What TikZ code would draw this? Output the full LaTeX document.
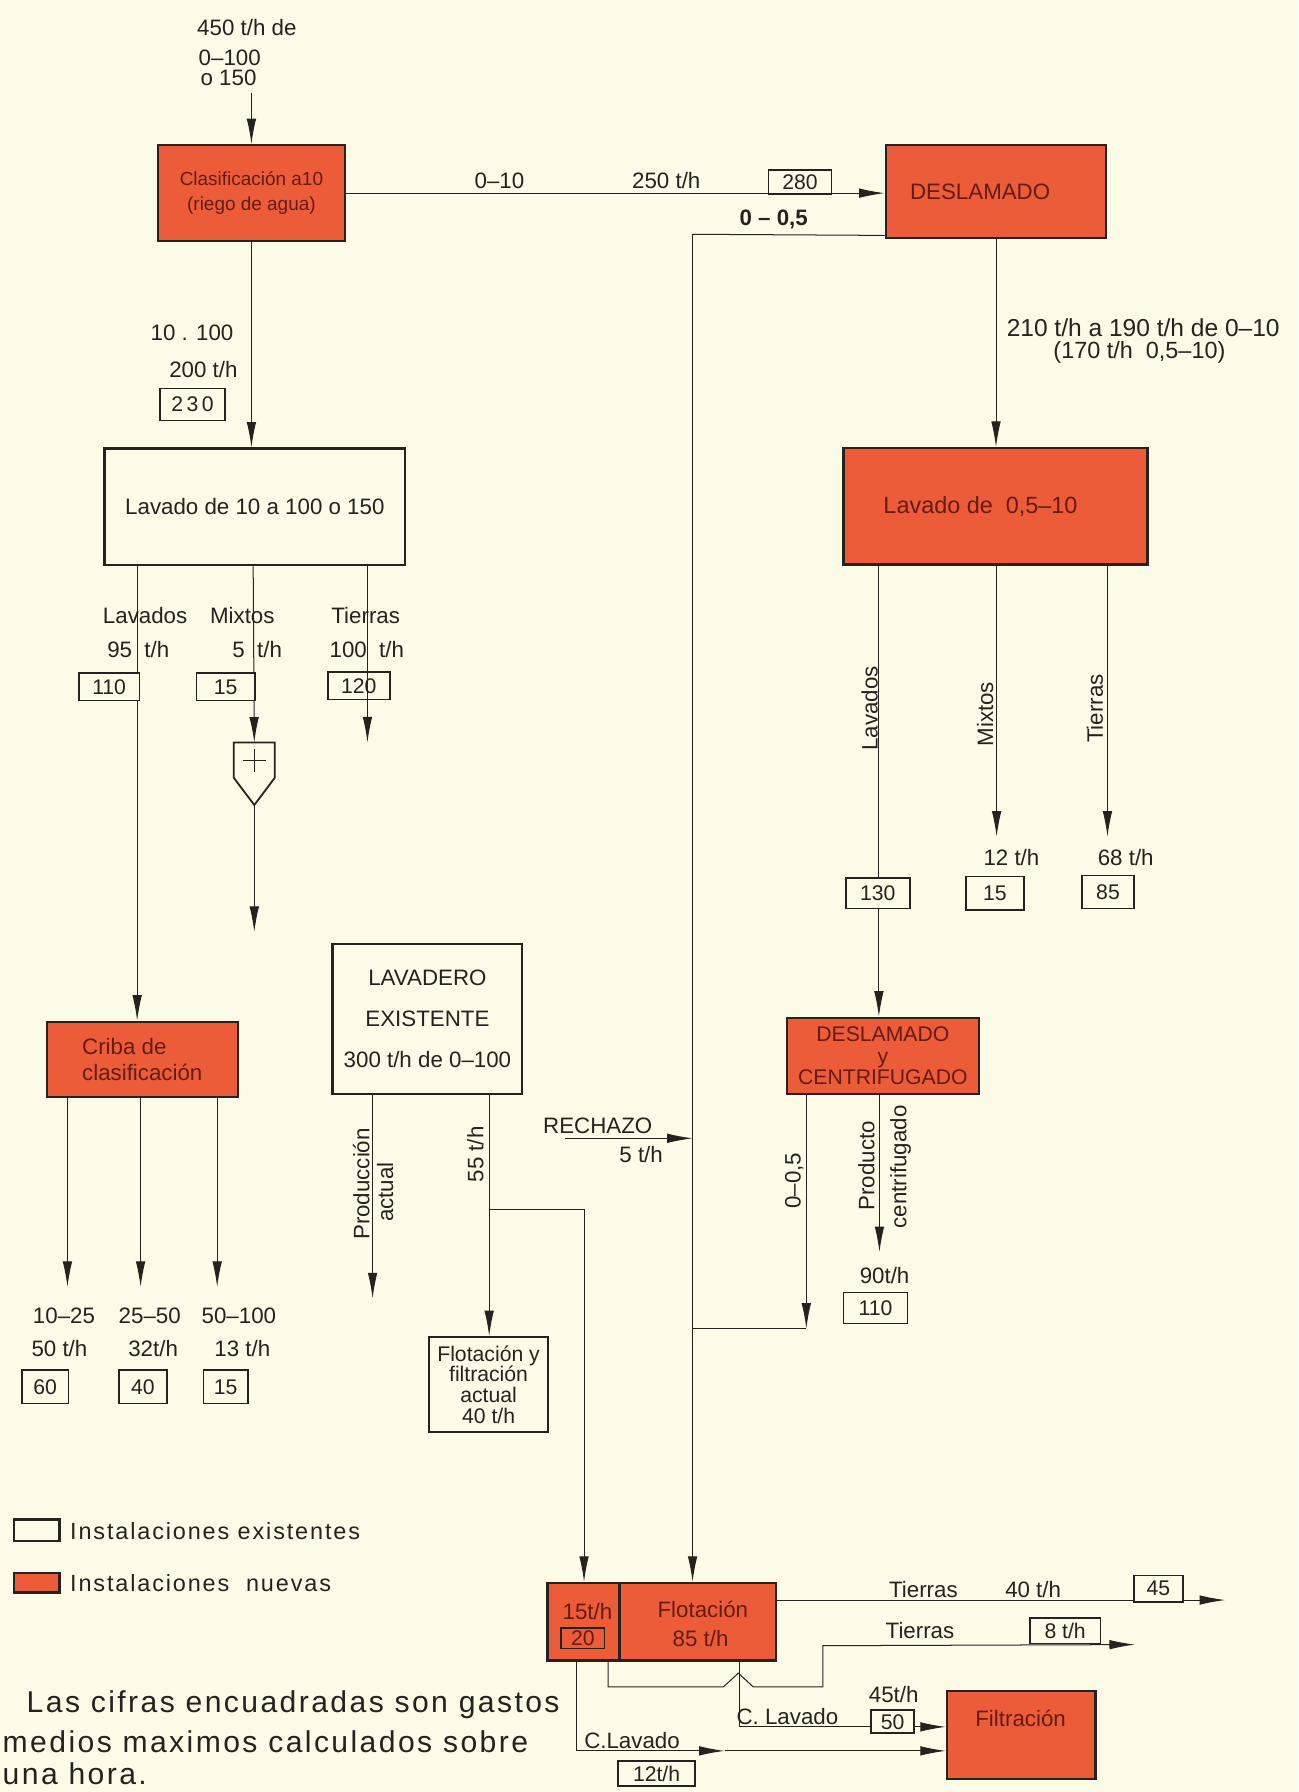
\documentclass[tikz,border=0pt]{standalone}
\usepackage{fontspec}
\setmainfont{Liberation Sans}
\newfontfamily\abierta[LetterSpace=8]{Liberation Sans}
\usetikzlibrary{arrows.meta,calc}

\definecolor{papel}{RGB}{252,251,231}
\definecolor{nuevo}{RGB}{236,92,56}
\definecolor{tinta}{RGB}{38,34,30}
\definecolor{rotulo}{RGB}{100,28,20}

\tikzset{
    tam/.style 2 args={minimum width=#1*0.018cm, minimum height=#2*0.018cm},
    nueva/.style={draw=tinta, fill=nuevo, line width=1pt, text=rotulo, inner sep=0pt, align=center},
    existente/.style={draw=tinta, line width=1pt, inner sep=0pt, align=center},
    cifra/.style={draw=tinta, fill=papel, line width=0.8pt, inner sep=0pt, font=\fontsize{9.5}{11}\selectfont},
    flujo/.style={->, draw=tinta, line width=0.45pt},
    linea/.style={draw=tinta, line width=0.45pt},
    vert/.style={rotate=90},
}

\begin{document}
\begin{tikzpicture}[x=0.018cm, y=-0.018cm, >={Latex[length=4mm,width=1.5mm]}, text=tinta]
        % Papel
        \fill [papel] (0,0) rectangle (1136,1568);
        \useasboundingbox (0,0) rectangle (1136,1568);

        % Alimentacion
        \node (alim1) at (216,24) {450 t/h de};
        \node (alim2) at (201,51) {0--100};
        \node (alim3) at (200,68) {o 150};

        % Procesos
        \node [nueva, tam={164}{84}, font=\fontsize{8.5}{11}\selectfont] (clas) at (220,169) {Clasificación a10\\(riego de agua)};
        \node [nueva, tam={193}{81}] (desl) at (871.5,167.5) {DESLAMADO\hspace{0.5cm}};
        \node [existente, tam={263}{102}] (lav1) at (223,443.5) {Lavado de 10 a 100 o 150};
        \node [nueva, tam={266}{102}, font=\fontsize{10.5}{12}\selectfont] (lav2) at (871,443) {Lavado de \ 0,5--10\hspace{0.47cm}};
        \node [nueva, tam={167}{66}, align=left] (criba) at (124.5,927) {Criba de\\clasificación};
        \node [existente, tam={166}{131}, font=\fontsize{10}{18.5}\selectfont] (lavex) at (374,891.5) {LAVADERO\\EXISTENTE\\300 t/h de 0--100};
        \node [nueva, tam={168}{67}, font=\fontsize{9.5}{9.6}\selectfont] (dc) at (772.5,924) {DESLAMADO\\y\\CENTRIFUGADO};
        \node [existente, tam={104}{83}, font=\fontsize{9.5}{9.3}\selectfont] (flact) at (427.5,1211.5) {Flotación y\\filtración\\actual\\40 t/h};
        \node [nueva, tam={200}{68}] (flot) at (579,1419) {};
        \node [nueva, tam={130}{77}] (filt) at (893.5,1518) {};

        % Rotulos de flotacion y filtracion
        \draw [draw=tinta, line width=1pt] ($(flot.north west)+(64,0)$) -- ($(flot.south west)+(64,0)$);
        \node [text=rotulo] (f15) at (514,1410) {15t/h};
        \node [cifra, tam={38}{18}, fill=none, text=rotulo] (c20) at (510,1433.5) {20};
        \node [text=rotulo] (flotx) at (615,1408) {Flotación};
        \node [text=rotulo] (f85) at (613,1434) {85 t/h};
        \node [text=rotulo] (filtx) at (893,1504) {Filtración};

        % Entrada
        \draw [flujo] (alim3.south -| clas.north) -- (clas.north);

        % Clasificacion -> Deslamado
        \draw [flujo] (clas.east) -- (clas.east -| desl.west);
        \node (t010) at (437,158) {0--10};
        \node (t250) at (583,158) {250 t/h};
        \node [cifra, tam={55}{21}] (c280) at (700,159) {280};

        % 0-0,5 hacia flotacion
        \coordinate (fin05) at ($(desl.south west)+(0,-3)$);
        \coordinate (bajada) at (606,205);
        \draw [linea] (fin05) -- (bajada);
        \draw [flujo] (bajada) -- (bajada |- flot.north);
        \node [font=\bfseries] (t005) at (677,192) {0 -- 0,5};

        % Deslamado -> Lavado 0,5-10
        \draw [flujo] (desl.south) -- (desl.south |- lav2.north);
        \node [anchor=west, font=\fontsize{11}{13}\selectfont] (t210) at (874,287) {210 t/h a 190 t/h de 0--10};
        \node [font=\fontsize{10.5}{13}\selectfont] (t170) at (997,308) {(170 t/h \ 0,5--10)};

        % Clasificacion -> Lavado 10-100
        \draw [flujo] (clas.south) -- (clas.south |- lav1.north);
        \node (t10100) at (168,291) {10 . 100};
        \node (t200) at (178,323) {200 t/h};
        \node [cifra, tam={57}{28}] (c230) at (168.5,354) {2\,3\,0};

        % Salidas del lavado 10-100
        \coordinate (l1a) at ($(lav1.south west)+(29.5,0)$);
        \coordinate (l1b) at ($(lav1.south west)+(131,0)$);
        \coordinate (l1c) at ($(lav1.south west)+(231,0)$);
        \draw [flujo] (l1a) -- (l1a |- criba.north);
        \node [tam={35}{54}] (sep) at (222.5,677) {};
        \draw [draw=tinta, line width=0.8pt] (sep.north west) -- (sep.north east) -- ($(sep.north east)+(0,31)$) -- (sep.south) -- ($(sep.north west)+(0,31)$) -- cycle;
        \draw [linea] ($(sep.north)+(-10,16)$) -- ++(20,0) ($(sep.north)+(0,6)$) -- ++(0,20);
        \draw [flujo] (l1b) -- (sep.north);
        \coordinate (mixfin) at ($(sep.south)+(0,111)$);
        \draw [flujo] (sep.south) -- (mixfin);
        \coordinate (tierfin) at ($(l1c)+(0,154)$);
        \draw [flujo] (l1c) -- (tierfin);
        \node (lbl1) at (127,539) {Lavados};
        \node (lbl2) at (212,539) {Mixtos};
        \node (lbl3) at (320,539) {Tierras};
        \node (q1) at (121,568) {95 \ t/h};
        \node (q2) at (225,568) {5 \ t/h};
        \node (q3) at (321,568) {100 \ t/h};
        \node [cifra, tam={53}{24}] (c110) at (95.5,601) {110};
        \node [cifra, tam={51}{24}] (c15a) at (197.5,601) {15};
        \node [cifra, tam={54}{24}, fill=none] (c120) at (314,600) {120};

        % Salidas de la criba
        \foreach \dx/\n in {19/a,83/b,150/c} {
            \coordinate (cr\n) at ($(criba.south west)+(\dx,0)$);
            \coordinate (cr\n fin) at ($(cr\n)+(0,165)$);
            \draw [flujo] (cr\n) -- (cr\n fin);
        }
        \node (g1) at (56,1151) {10--25};
        \node (g2) at (131,1151) {25--50};
        \node (g3) at (209,1151) {50--100};
        \node (h1) at (52,1180) {50 t/h};
        \node (h2) at (134,1180) {32t/h};
        \node (h3) at (212,1180) {13 t/h};
        \node [cifra, tam={41}{29}] (c60) at (39.5,1213.5) {60};
        \node [cifra, tam={42}{29}] (c40) at (125,1213.5) {40};
        \node [cifra, tam={39}{29}] (c15b) at (197.5,1213.5) {15};

        % Lavadero existente
        \coordinate (lxa) at ($(lavex.south west)+(36,0)$);
        \coordinate (lxb) at ($(lavex.south west)+(138,0)$);
        \coordinate (lxafin) at ($(lxa)+(0,178)$);
        \draw [flujo] (lxa) -- (lxafin);
        \draw [flujo] (lxb) -- (lxb |- flact.north);
        \coordinate (der) at ($(lxb)+(0,100)$);
        \coordinate (flotA) at ($(flot.north west)+(33,0)$);
        \draw [flujo] (der) -| (flotA);
        \node [vert] (prod) at (316,1036) {Producción};
        \node [vert] (act) at (337,1043) {actual};
        \node [vert] (t55) at (416,1010) {55 t/h};

        % Rechazo
        \node (rech) at (523,985) {RECHAZO};
        \node (r5) at (561,1010) {5 t/h};
        \coordinate (rechini) at (494,996);
        \draw [flujo] (rechini) -- (rechini -| bajada);

        % Salidas de lavado 0,5-10
        \coordinate (l2a) at ($(lav2.south west)+(32,0)$);
        \coordinate (l2b) at ($(lav2.south west)+(135,0)$);
        \coordinate (l2c) at ($(lav2.south west)+(232,0)$);
        \draw [flujo] (l2a) -- (l2a |- dc.north);
        \coordinate (l2bfin) at ($(l2b)+(0,237)$);
        \coordinate (l2cfin) at ($(l2c)+(0,237)$);
        \draw [flujo] (l2b) -- (l2bfin);
        \draw [flujo] (l2c) -- (l2cfin);
        \node [vert] (r1) at (761,620) {Lavados};
        \node [vert] (r2) at (862,625) {Mixtos};
        \node [vert] (r3) at (958,620) {Tierras};
        \node (q12) at (885,750) {12 t/h};
        \node (q68) at (985,750) {68 t/h};
        \node [cifra, tam={56}{27}] (c130) at (768,781.5) {130};
        \node [cifra, tam={51}{29}] (c15c) at (870.5,781.5) {15};
        \node [cifra, tam={45}{29}] (c85) at (969.5,780.5) {85};

        % Deslamado y centrifugado
        \coordinate (dca) at ($(dc.south west)+(18,0)$);
        \coordinate (dcb) at ($(dc.south west)+(82,0)$);
        \coordinate (junta) at ($(dca)+(0,204)$);
        \draw [flujo] (dca) -- (junta);
        \draw [linea] (junta) -- (junta -| bajada);
        \coordinate (dcbfin) at ($(dcb)+(0,137)$);
        \draw [flujo] (dcb) -- (dcbfin);
        \node [vert] (t005b) at (695,1033) {0--0,5};
        \node [vert] (prodc) at (758,1020) {Producto};
        \node [vert] (cent) at (788,1021) {centrifugado};
        \node (t90) at (774,1116) {90t/h};
        \node [cifra, tam={56}{27}] (c110b) at (766,1144.5) {110};

        % Salidas de flotacion
        \coordinate (ft1) at ($(flot.north east)+(0,16)$);
        \coordinate (ft1fin) at ($(ft1)+(392,0)$);
        \draw [flujo] (ft1) -- (ft1fin);
        \node (lt40) at (808,1391) {Tierras};
        \node (q40) at (904,1391) {40 t/h};
        \node [cifra, tam={43}{23}] (c45) at (1013.5,1390) {45};

        \coordinate (ft2) at ($(flot.south west)+(54,0)$);
        \coordinate (ft2fin) at (993,1439);
        \draw [flujo] (ft2) -- ++(0,22) -- ++(101,0) -- ++(13,-12) -- ++(13,12) -- ++(61,0) -- ++(0,-36) -- (ft2fin);
        \node (lt8) at (805,1427) {Tierras};
        \node [cifra, tam={62}{22}] (c8) at (932,1427) {8 t/h};

        \coordinate (fc1) at ($(flot.south west)+(169,0)$);
        \draw [flujo] (fc1) |- ($(filt.west)+(0,-7)$);
        \node (cl1) at (689,1502) {C. Lavado};
        \node (q45) at (782,1483) {45t/h};
        \node [cifra, tam={38}{20}] (c50) at (781,1506.5) {50};

        \coordinate (fc2) at ($(flot.south west)+(26,0)$);
        \coordinate (fc2mid) at (634,1532);
        \draw [flujo] (fc2) |- (fc2mid);
        \draw [flujo] (fc2mid) -- (fc2mid -| filt.west);
        \node (cl2) at (553,1523) {C.Lavado};
        \node [cifra, tam={67}{22}] (c12) at (574.5,1552) {12t/h};

        % Leyenda
        \node [existente, tam={40}{19}] (leyex) at (32,1339) {};
        \node [anchor=west, inner sep=0pt, font=\abierta\fontsize{10.5}{12}\selectfont] (leyext) at (61,1340) {Instalaciones existentes};
        \node [nueva, tam={40}{17}] (leynu) at (32,1385) {};
        \node [anchor=west, inner sep=0pt, font=\abierta\fontsize{10.5}{12}\selectfont] (leynut) at (61,1385) {Instalaciones \ nuevas};

        % Nota
        \node [anchor=west, inner sep=0pt, font=\abierta\fontsize{13.5}{16}\selectfont] (nota1) at (23,1492) {Las cifras encuadradas son gastos};
        \node [anchor=west, inner sep=0pt, font=\abierta\fontsize{13.5}{16}\selectfont] (nota2) at (2,1524) {medios maximos calculados sobre};
        \node [anchor=west, inner sep=0pt, font=\abierta\fontsize{13.5}{16}\selectfont] (nota3) at (2,1552) {una hora.};
\end{tikzpicture}
\end{document}
